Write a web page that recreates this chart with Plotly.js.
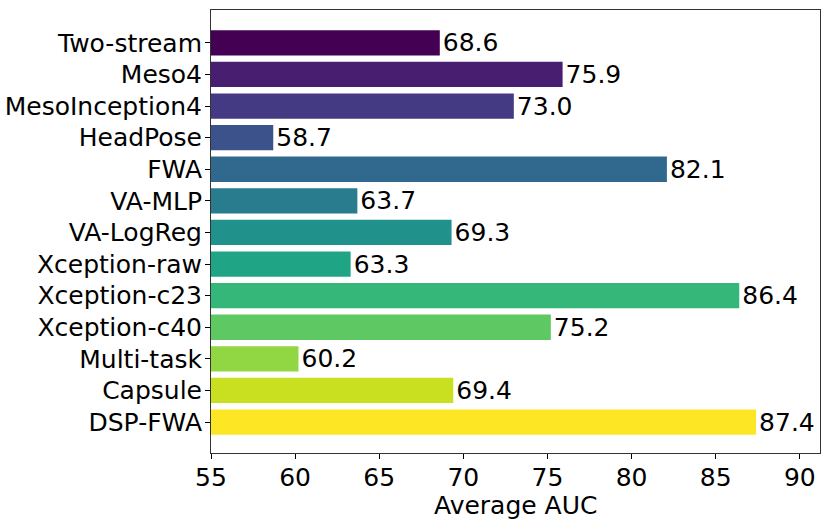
<!DOCTYPE html>
<html>
<head>
<meta charset="utf-8">
<script src="https://cdn.plot.ly/plotly-3.0.1.min.js"></script>
<style>
  html, body { margin: 0; padding: 0; background: #fff; }
  #chart { width: 830px; height: 519px; }
</style>
</head>
<body>
<div id="chart"></div>
<script>
var methods = ['Two-stream', 'Meso4', 'MesoInception4', 'HeadPose', 'FWA', 'VA-MLP',
  'VA-LogReg', 'Xception-raw', 'Xception-c23', 'Xception-c40', 'Multi-task', 'Capsule', 'DSP-FWA']
var auc = [68.6, 75.9, 73.0, 58.7, 82.1, 63.7, 69.3, 63.3, 86.4, 75.2, 60.2, 69.4, 87.4]
var colors = ['#440154', '#481f70', '#443983', '#3b528b', '#31688e', '#287c8e', '#21918c',
  '#20a486', '#35b779', '#5ec962', '#90d743', '#c8e020', '#fde725']
var xTicks = [55, 60, 65, 70, 75, 80, 85, 90]

var font = 'DejaVu Sans, sans-serif'

var trace = {
  type: 'bar',
  orientation: 'h',
  x: auc,
  y: methods,
  base: 0,
  width: 0.8,
  marker: { color: colors, line: { width: 0 } },
  text: auc.map(function (v) { return v.toFixed(1) }),
  textposition: 'outside',
  constraintext: 'none',
  textfont: { family: font, size: 25, color: '#000' },
  cliponaxis: false,
  hoverinfo: 'x+y'
}

var layout = {
  width: 830,
  height: 519,
  margin: { l: 211, r: 10, t: 10, b: 66 },
  paper_bgcolor: '#fff',
  plot_bgcolor: '#fff',
  showlegend: false,
  font: { family: font, size: 25, color: '#000' },
  xaxis: {
    range: [55, 91.2],
    tickvals: xTicks,
    ticks: 'outside',
    ticklen: 5,
    tickcolor: '#000',
    showgrid: false,
    zeroline: false,
    showline: true,
    linecolor: '#333',
    linewidth: 1,
    mirror: true,
    automargin: false,
    ticklabelstandoff: -3,
    tickfont: { family: font, size: 25 }
  },
  yaxis: {
    type: 'category',
    categoryorder: 'array',
    categoryarray: methods,
    range: [12.98, -1.04],
    ticks: 'outside',
    ticklen: 5,
    tickcolor: '#000',
    showgrid: false,
    zeroline: false,
    showline: true,
    linecolor: '#333',
    linewidth: 1,
    mirror: true,
    automargin: false,
    ticklabelstandoff: -2,
    tickfont: { family: font, size: 25 }
  },
  annotations: [{
    text: 'Average AUC',
    xref: 'paper', yref: 'paper',
    x: 0.5, y: -0.119, xanchor: 'center', yanchor: 'middle',
    showarrow: false,
    font: { family: font, size: 25, color: '#000' }
  }]
}

Plotly.newPlot('chart', [trace], layout, { displayModeBar: false, staticPlot: true })
</script>
</body>
</html>
